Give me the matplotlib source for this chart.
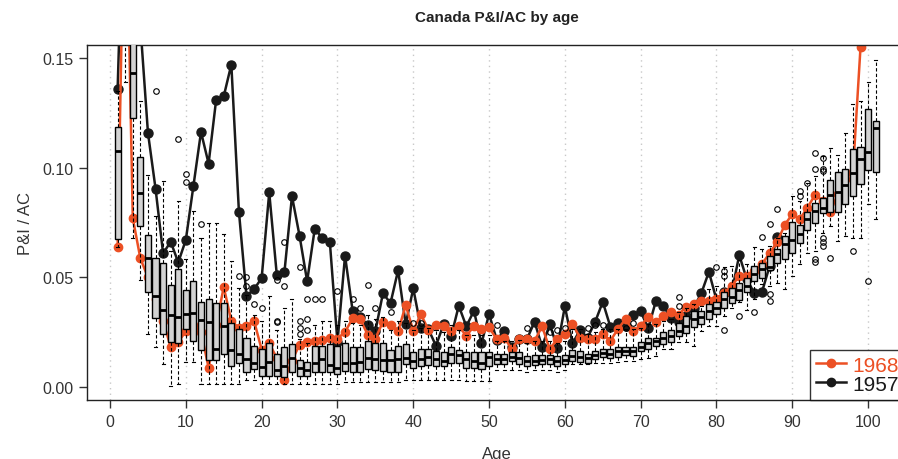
import numpy as np
import matplotlib
matplotlib.use("Agg")
import matplotlib.pyplot as plt
from matplotlib.lines import Line2D

plt.rcParams["font.family"] = ["Liberation Sans", "DejaVu Sans"]

# Box positions (age) and box statistics
ages = list(range(1, 102))
q1 = [0.0674, 0.170, 0.1229, 0.0735, 0.0431, 0.0312, 0.0240, 0.0205, 0.0199, 0.0266,
      0.0207, 0.0167, 0.0123, 0.0123, 0.0149, 0.0096, 0.0111, 0.0068, 0.0081, 0.0050,
      0.0050, 0.0050, 0.0043, 0.0066, 0.0050, 0.0050, 0.0066, 0.0066, 0.0066, 0.0058,
      0.0073, 0.0069, 0.0069, 0.0081, 0.0078, 0.0073, 0.0069, 0.0069, 0.0103, 0.0088,
      0.0096, 0.0099, 0.0093, 0.0096, 0.0108, 0.0111, 0.0088, 0.0084, 0.0081, 0.0096,
      0.0104, 0.0104, 0.0119, 0.0104, 0.0096, 0.0099, 0.0104, 0.0104, 0.0096, 0.0104,
      0.0119, 0.0114, 0.0111, 0.0126, 0.0134, 0.0130, 0.0134, 0.0145, 0.0141, 0.0164,
      0.0175, 0.0187, 0.0195, 0.0203, 0.0233, 0.0248, 0.0271, 0.0286, 0.0309, 0.0332,
      0.0358, 0.0382, 0.0397, 0.0431, 0.0484, 0.0495, 0.0534, 0.0564, 0.0583, 0.0613,
      0.0656, 0.0716, 0.0747, 0.0792, 0.0798, 0.0798, 0.0833, 0.0871, 0.0925, 0.0990,
      0.0981]
med = [0.1077, 0.190, 0.1430, 0.0884, 0.0590, 0.0415, 0.0351, 0.0327, 0.0317, 0.0332,
       0.0336, 0.0306, 0.0297, 0.0172, 0.0278, 0.0169, 0.0149, 0.0126, 0.0108, 0.0091,
       0.0114, 0.0078, 0.0096, 0.0131, 0.0088, 0.0078, 0.0108, 0.0126, 0.0101, 0.0088,
       0.0110, 0.0110, 0.0113, 0.0133, 0.0129, 0.0122, 0.0123, 0.0129, 0.0133, 0.0119,
       0.0129, 0.0138, 0.0126, 0.0119, 0.0149, 0.0145, 0.0126, 0.0119, 0.0111, 0.0134,
       0.0126, 0.0126, 0.0138, 0.0130, 0.0119, 0.0119, 0.0123, 0.0126, 0.0119, 0.0123,
       0.0141, 0.0138, 0.0130, 0.0145, 0.0155, 0.0149, 0.0164, 0.0164, 0.0164, 0.0184,
       0.0199, 0.0210, 0.0221, 0.0231, 0.0256, 0.0278, 0.0309, 0.0317, 0.0347, 0.0362,
       0.0400, 0.0412, 0.0443, 0.0461, 0.0514, 0.0537, 0.0549, 0.0605, 0.0651, 0.0671,
       0.0697, 0.0768, 0.0803, 0.0814, 0.0875, 0.0887, 0.0920, 0.0975, 0.1042, 0.1074,
       0.1179]
q3 = [0.1188, 0.210, 0.1650, 0.1047, 0.0693, 0.0586, 0.0567, 0.0465, 0.0537, 0.0441,
      0.0484, 0.0385, 0.0403, 0.0382, 0.0382, 0.0290, 0.0263, 0.0225, 0.0187, 0.0172,
      0.0198, 0.0149, 0.0180, 0.0195, 0.0123, 0.0115, 0.0187, 0.0187, 0.0195, 0.0187,
      0.0202, 0.0184, 0.0180, 0.0210, 0.0199, 0.0202, 0.0169, 0.0187, 0.0195, 0.0160,
      0.0172, 0.0175, 0.0164, 0.0160, 0.0180, 0.0169, 0.0157, 0.0157, 0.0160, 0.0157,
      0.0149, 0.0149, 0.0157, 0.0157, 0.0141, 0.0145, 0.0145, 0.0145, 0.0141, 0.0145,
      0.0169, 0.0164, 0.0149, 0.0164, 0.0172, 0.0175, 0.0184, 0.0184, 0.0184, 0.0205,
      0.0221, 0.0225, 0.0251, 0.0260, 0.0290, 0.0324, 0.0347, 0.0347, 0.0377, 0.0385,
      0.0431, 0.0453, 0.0476, 0.0499, 0.0552, 0.0567, 0.0598, 0.0628, 0.0689, 0.0753,
      0.0738, 0.0798, 0.0841, 0.0864, 0.0944, 0.0981, 0.0996, 0.1084, 0.1095, 0.1270,
      0.1214]
wlo = [0.0640, 0.1390, 0.0680, 0.0487, 0.0240, 0.0183, 0.0104, 0.0005, 0.0012, 0.0114,
       0.0114, 0.0012, 0.0012, 0.0012, 0.0012, 0.0012, 0.0012, 0.0030, 0.0030, 0.0012,
       0.0012, 0.0012, 0.0012, 0.0012, 0.0012, 0.0012, 0.0012, 0.0012, 0.0012, 0.0012,
       0.0020, 0.0020, 0.0020, 0.0020, 0.0020, 0.0020, 0.0020, 0.0020, 0.0030, 0.0030,
       0.0030, 0.0030, 0.0030, 0.0030, 0.0030, 0.0030, 0.0027, 0.0027, 0.0027, 0.0027,
       0.0076, 0.0076, 0.0076, 0.0076, 0.0070, 0.0076, 0.0076, 0.0076, 0.0070, 0.0076,
       0.0104, 0.0104, 0.0104, 0.0110, 0.0110, 0.0110, 0.0115, 0.0120, 0.0120, 0.0126,
       0.0130, 0.0140, 0.0172, 0.0172, 0.0203, 0.0203, 0.0188, 0.0256, 0.0278, 0.0278,
       0.0324, 0.0362, 0.0385, 0.0351, 0.0400, 0.0469, 0.0461, 0.0476, 0.0446, 0.0506,
       0.0560, 0.0613, 0.0620, 0.0704, 0.0734, 0.0666, 0.0689, 0.0677, 0.0677, 0.0833,
       0.0768]
whi = [0.1350, 0.2500, 0.2500, 0.1305, 0.0966, 0.0780, 0.0940, 0.0620, 0.0849, 0.0583,
       0.0803, 0.0680, 0.0750, 0.0750, 0.0697, 0.0575, 0.0450, 0.0420, 0.0330, 0.0300,
       0.0415, 0.0260, 0.0362, 0.0400, 0.0220, 0.0200, 0.0280, 0.0300, 0.0300, 0.0280,
       0.0300, 0.0290, 0.0280, 0.0330, 0.0310, 0.0320, 0.0260, 0.0300, 0.0290, 0.0260,
       0.0270, 0.0270, 0.0260, 0.0250, 0.0280, 0.0260, 0.0236, 0.0236, 0.0236, 0.0236,
       0.0210, 0.0210, 0.0210, 0.0215, 0.0200, 0.0210, 0.0210, 0.0210, 0.0200, 0.0210,
       0.0263, 0.0263, 0.0240, 0.0250, 0.0263, 0.0263, 0.0263, 0.0263, 0.0263, 0.0270,
       0.0286, 0.0286, 0.0300, 0.0310, 0.0340, 0.0360, 0.0380, 0.0370, 0.0446, 0.0460,
       0.0545, 0.0550, 0.0580, 0.0560, 0.0636, 0.0628, 0.0643, 0.0681, 0.0700, 0.0871,
       0.0850, 0.0932, 0.0962, 0.1054, 0.1092, 0.1057, 0.1160, 0.1290, 0.1305, 0.1389,
       0.1492]

# Outliers (age, value)
out_age = [6, 9, 10, 10, 12, 17, 18, 18, 19, 20, 22, 22, 22, 23, 23, 25, 25, 25, 25,
           26, 26, 26, 27, 28, 30, 32, 33, 34, 35, 37, 40, 41, 51, 55, 58, 59, 60,
           63, 64, 65, 68, 69, 75, 75, 80, 81, 81, 81, 83, 85, 86, 87, 87, 87, 88,
           91, 91, 92, 93, 93, 93, 93, 94, 94, 94, 94, 94, 94, 95, 98, 100]
out_val = [0.1348, 0.1130, 0.0970, 0.0935, 0.0742, 0.0506, 0.0502, 0.0461, 0.0377, 0.0362,
           0.0301, 0.0488, 0.0298, 0.0662, 0.0462, 0.0545, 0.0300, 0.0270, 0.0240,
           0.0400, 0.0310, 0.0260, 0.0400, 0.0400, 0.0438, 0.0400, 0.0360, 0.0464, 0.0360,
           0.0343, 0.0290, 0.0290, 0.0280, 0.0270, 0.0250, 0.0260, 0.0270,
           0.0270, 0.0280, 0.0280, 0.0270, 0.0290, 0.0408, 0.0367, 0.0549, 0.0530, 0.0506,
           0.0260, 0.0324, 0.0340, 0.0686, 0.0742, 0.0423, 0.0392, 0.0810,
           0.0894, 0.0871, 0.0929, 0.1066, 0.0993, 0.0583, 0.0570, 0.1045, 0.0996, 0.0985,
           0.0677, 0.0660, 0.0645, 0.0586, 0.0620, 0.0484]

# Series 1957 (black), ages 1..88
age_1957 = list(range(1, 89))
val_1957 = [0.1360, 0.2500, 0.2000, 0.1650, 0.1160, 0.0905, 0.0609, 0.0662, 0.0568, 0.0671,
            0.0917, 0.1163, 0.1019, 0.1311, 0.1326, 0.1471, 0.0800, 0.0415, 0.0446, 0.0496,
            0.0887, 0.0510, 0.0522, 0.0870, 0.0689, 0.0482, 0.0720, 0.0680, 0.0659, 0.0203,
            0.0598, 0.0347, 0.0321, 0.0280, 0.0254, 0.0427, 0.0382, 0.0532, 0.0286, 0.0449,
            0.0270, 0.0263, 0.0187, 0.0287, 0.0230, 0.0370, 0.0276, 0.0347, 0.0198, 0.0332,
            0.0216, 0.0254, 0.0180, 0.0218, 0.0218, 0.0297, 0.0182, 0.0287, 0.0178, 0.0367,
            0.0198, 0.0259, 0.0225, 0.0297, 0.0388, 0.0274, 0.0291, 0.0277, 0.0330, 0.0344,
            0.0267, 0.0391, 0.0370, 0.0312, 0.0294, 0.0324, 0.0362, 0.0427, 0.0525, 0.0397,
            0.0431, 0.0430, 0.0601, 0.0491, 0.0427, 0.0433, 0.0550, 0.0686]

# Series 1968 (orange), ages 1..99
age_1968 = list(range(1, 100))
val_1968 = [0.0640, 0.2500, 0.0770, 0.0586, 0.0500, 0.0400, 0.0300, 0.0182, 0.0203, 0.0255,
            0.0280, 0.0250, 0.0088, 0.0280, 0.0456, 0.0300, 0.0270, 0.0278, 0.0301, 0.0170,
            0.0200, 0.0130, 0.0031, 0.0120, 0.0192, 0.0203, 0.0210, 0.0215, 0.0225, 0.0220,
            0.0251, 0.0312, 0.0309, 0.0237, 0.0220, 0.0297, 0.0280, 0.0253, 0.0373, 0.0256,
            0.0332, 0.0260, 0.0281, 0.0278, 0.0256, 0.0276, 0.0233, 0.0276, 0.0264, 0.0271,
            0.0218, 0.0225, 0.0172, 0.0220, 0.0220, 0.0210, 0.0276, 0.0172, 0.0218, 0.0243,
            0.0286, 0.0225, 0.0220, 0.0218, 0.0243, 0.0210, 0.0264, 0.0309, 0.0256, 0.0278,
            0.0320, 0.0294, 0.0324, 0.0342, 0.0330, 0.0365, 0.0380, 0.0392, 0.0392, 0.0400,
            0.0430, 0.0460, 0.0506, 0.0506, 0.0530, 0.0560, 0.0610, 0.0660, 0.0739, 0.0788,
            0.0765, 0.0818, 0.0876, 0.0850, 0.0796, 0.0880, 0.0950, 0.0980, 0.1550]

orange = "#EC5024"
black = "#1A1A1A"

fig = plt.figure(figsize=(8.98, 4.6), dpi=100)
ax = fig.add_axes([87.3 / 898, 59 / 460, (906 - 87.3) / 898, 355 / 460])

# dotted vertical guides
for gx in range(0, 101, 10):
    ax.axvline(gx, color="#C8C8C8", linestyle=(0, (1, 3)), linewidth=1, zorder=0)

# series (drawn under the boxes)
ax.plot(age_1957, val_1957, color=black, linewidth=1.8, marker="o",
        markersize=6.5, zorder=2)
ax.plot(age_1968, val_1968, color=orange, linewidth=1.8, marker="o",
        markersize=6, zorder=2)

# boxplots from the read statistics
stats = []
for i, a in enumerate(ages):
    fl = [v for aa, v in zip(out_age, out_val) if aa == a]
    stats.append(dict(med=med[i], q1=q1[i], q3=q3[i], whislo=wlo[i], whishi=whi[i], fliers=fl))
ax.bxp(stats, positions=ages, widths=0.8, patch_artist=True, zorder=3,
       boxprops=dict(facecolor="#D3D3D3", edgecolor="black", linewidth=1),
       whiskerprops=dict(color="black", linestyle=(0, (3, 2)), linewidth=0.8),
       capprops=dict(color="black", linewidth=0.8),
       medianprops=dict(color="black", linewidth=2),
       flierprops=dict(marker="o", markerfacecolor="none", markeredgecolor="black",
                       markersize=4, markeredgewidth=0.8),
       capwidths=0.4, manage_ticks=False)

ax.set_xlim(-3, 105)
ax.set_ylim(-0.006, 0.156)
ax.set_xticks(range(0, 101, 10))
ax.set_xticklabels([str(t) for t in range(0, 101, 10)])
ax.set_yticks([0.0, 0.05, 0.10, 0.15])
ax.set_yticklabels(["0.00", "0.05", "0.10", "0.15"])
ax.tick_params(direction="out", length=6, width=1, labelsize=11.5, colors="#333333", pad=4)
for s in ax.spines.values():
    s.set_linewidth(1)
    s.set_color("#222222")

ax.set_xlabel("Age", fontsize=12, color="#333333", labelpad=12)
ax.set_ylabel("P&I / AC", fontsize=12, color="#333333", labelpad=7)
ax.set_title("Canada P&I/AC by age", fontsize=11, fontweight="bold", color="#222222", pad=17)

handles = [Line2D([0], [0], color=orange, marker="o", markersize=6, linewidth=1.8),
           Line2D([0], [0], color=black, marker="o", markersize=6, linewidth=1.8)]
leg = fig.legend(handles, ["1968", "1957"], loc="lower left",
                 bbox_to_anchor=(810 / 898, 59 / 460), fontsize=15, frameon=True,
                 fancybox=False, edgecolor="black", handlelength=1.45, handletextpad=0.3,
                 borderpad=0.3, labelspacing=0.0, borderaxespad=0)
leg.get_frame().set_linewidth(1)
leg.set_zorder(5)
for t, c in zip(leg.get_texts(), [orange, black]):
    t.set_color(c)

fig.savefig("out.png", dpi=100)
